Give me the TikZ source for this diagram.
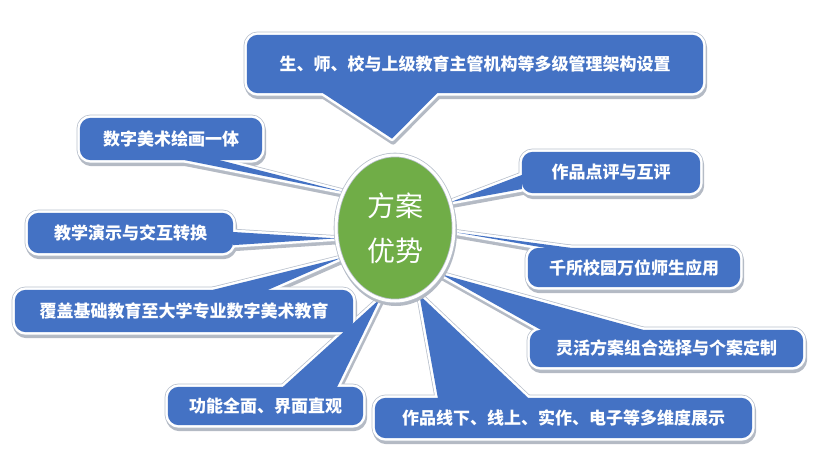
\documentclass[tikz,border=0pt]{standalone}
\usepackage{fontspec}
\setmainfont{Noto Sans CJK SC}
\usetikzlibrary{shapes.geometric,calc}
\definecolor{cblue}{HTML}{4472C4}
\definecolor{cgreen}{HTML}{70AD47}
\definecolor{cgrayline}{HTML}{B8C0CC}
\definecolor{cshadow}{HTML}{B4BAC4}
\pgfdeclarelayer{lshadow}
\pgfdeclarelayer{lborder}
\pgfdeclarelayer{lfill}
\pgfsetlayers{lshadow,lborder,lfill,main}
\tikzset{
  boxtxt/.style={text=white, font=\fontsize{17}{20}\selectfont\bfseries, inner sep=0pt, anchor=center},
  centtxt/.style={ellipse, fill=cgreen, draw=cgrayline, double=white, double distance=3pt, line width=0.8pt,
    minimum width=118pt, minimum height=146pt, inner sep=0pt, text=white, align=center,
    font=\fontsize{28}{45}\selectfont},
}
\newcommand\mkcallout[4]{%
  \begin{pgfonlayer}{lshadow}
    \begin{scope}[transform canvas={xshift=1pt,yshift=-3pt}]
      \filldraw[cshadow, line width=6pt, line join=round, rounded corners=11pt] (#1.south west) rectangle (#1.north east);
      \filldraw[cshadow, line width=6pt, line join=round] #2 -- #3 -- #4 -- cycle;
    \end{scope}
  \end{pgfonlayer}
  \begin{pgfonlayer}{lborder}
    \draw[cgrayline, line width=6.5pt, line join=round, rounded corners=11pt] (#1.south west) rectangle (#1.north east);
    \draw[cgrayline, line width=6.5pt, line join=round] #2 -- #3 -- #4 -- cycle;
    \draw[white, line width=5pt, line join=round, rounded corners=11pt] (#1.south west) rectangle (#1.north east);
    \draw[white, line width=5pt, line join=round] #2 -- #3 -- #4 -- cycle;
  \end{pgfonlayer}
  \begin{pgfonlayer}{lfill}
    \fill[cblue, rounded corners=11pt] (#1.south west) rectangle (#1.north east);
    \fill[cblue] #2 -- #3 -- #4 -- cycle;
  \end{pgfonlayer}
}
\begin{document}
\begin{tikzpicture}[x=1pt,y=-1pt]
\useasboundingbox (0,0) rectangle (821,461);
% centre
\node[centtxt] (c) at (395,228) {方案\\优势};
% callout boxes
\node[boxtxt, minimum width=456pt, minimum height=58pt] (b1) at (475,64) {生、师、校与上级教育主管机构等多级管理架构设置};
\node[boxtxt, minimum width=182pt, minimum height=42pt] (b2) at (171,139) {数字美术绘画一体};
\node[boxtxt, minimum width=178pt, minimum height=41pt] (b3) at (611,172.5) {作品点评与互评};
\node[boxtxt, minimum width=212pt, minimum height=39pt] (b4) at (634,267.5) {千所校园万位师生应用};
\node[boxtxt, minimum width=273pt, minimum height=37pt] (b5) at (666.5,348.5) {灵活方案组合选择与个案定制};
\node[boxtxt, minimum width=377pt, minimum height=40pt] (b6) at (563.5,418) {作品线下、线上、实作、电子等多维度展示};
\node[boxtxt, minimum width=195pt, minimum height=38pt] (b7) at (265.5,406) {功能全面、界面直观};
\node[boxtxt, minimum width=338pt, minimum height=42pt] (b8) at (184,311) {覆盖基础教育至大学专业数字美术教育};
\node[boxtxt, minimum width=205pt, minimum height=40pt] (b9) at (130.5,233) {教学演示与交互转换};
% callout shapes with pointers towards the centre
\mkcallout{b1}{($(b1.south west)!0.167!(b1.south east)$)}{($(c.north)+(-3,-16)$)}{($(b1.south west)!0.417!(b1.south east)$)}
\mkcallout{b2}{($(b2.south west)!0.577!(b2.south east)$)}{(c.145)}{($(b2.south west)!0.769!(b2.south east)$)}
\mkcallout{b3}{($(b3.north west)!0.56!(b3.south west)$)}{(c.25)}{($(b3.north west)!0.9!(b3.south west)$)}
\mkcallout{b4}{($(b4.north west)!0.08!(b4.north east)$)}{(c.-4)}{($(b4.north west)!0.2!(b4.north east)$)}
\mkcallout{b5}{($(b5.north west)!0.04!(b5.north east)$)}{(c.-45)}{($(b5.north west)!0.414!(b5.north east)$)}
\mkcallout{b6}{($(b6.north west)!0.167!(b6.north east)$)}{(c.-70)}{($(b6.north west)!0.406!(b6.north east)$)}
\mkcallout{b7}{($(b7.north west)!0.59!(b7.north east)$)}{(c.-102)}{($(b7.north west)!0.867!(b7.north east)$)}
\mkcallout{b8}{($(b8.north west)!0.586!(b8.north east)$)}{(c.-151)}{($(b8.north west)!0.749!(b8.north east)$)}
\mkcallout{b9}{($(b9.north east)!0.475!(b9.south east)$)}{(c.-170)}{($(b9.north east)!0.8!(b9.south east)$)}
% centre shadow
\begin{pgfonlayer}{lfill}
  \begin{scope}[transform canvas={xshift=1pt,yshift=-3pt}]
    \fill[cshadow] (c.center) ellipse [x radius=61pt, y radius=75pt];
  \end{scope}
\end{pgfonlayer}
\end{tikzpicture}
\end{document}
